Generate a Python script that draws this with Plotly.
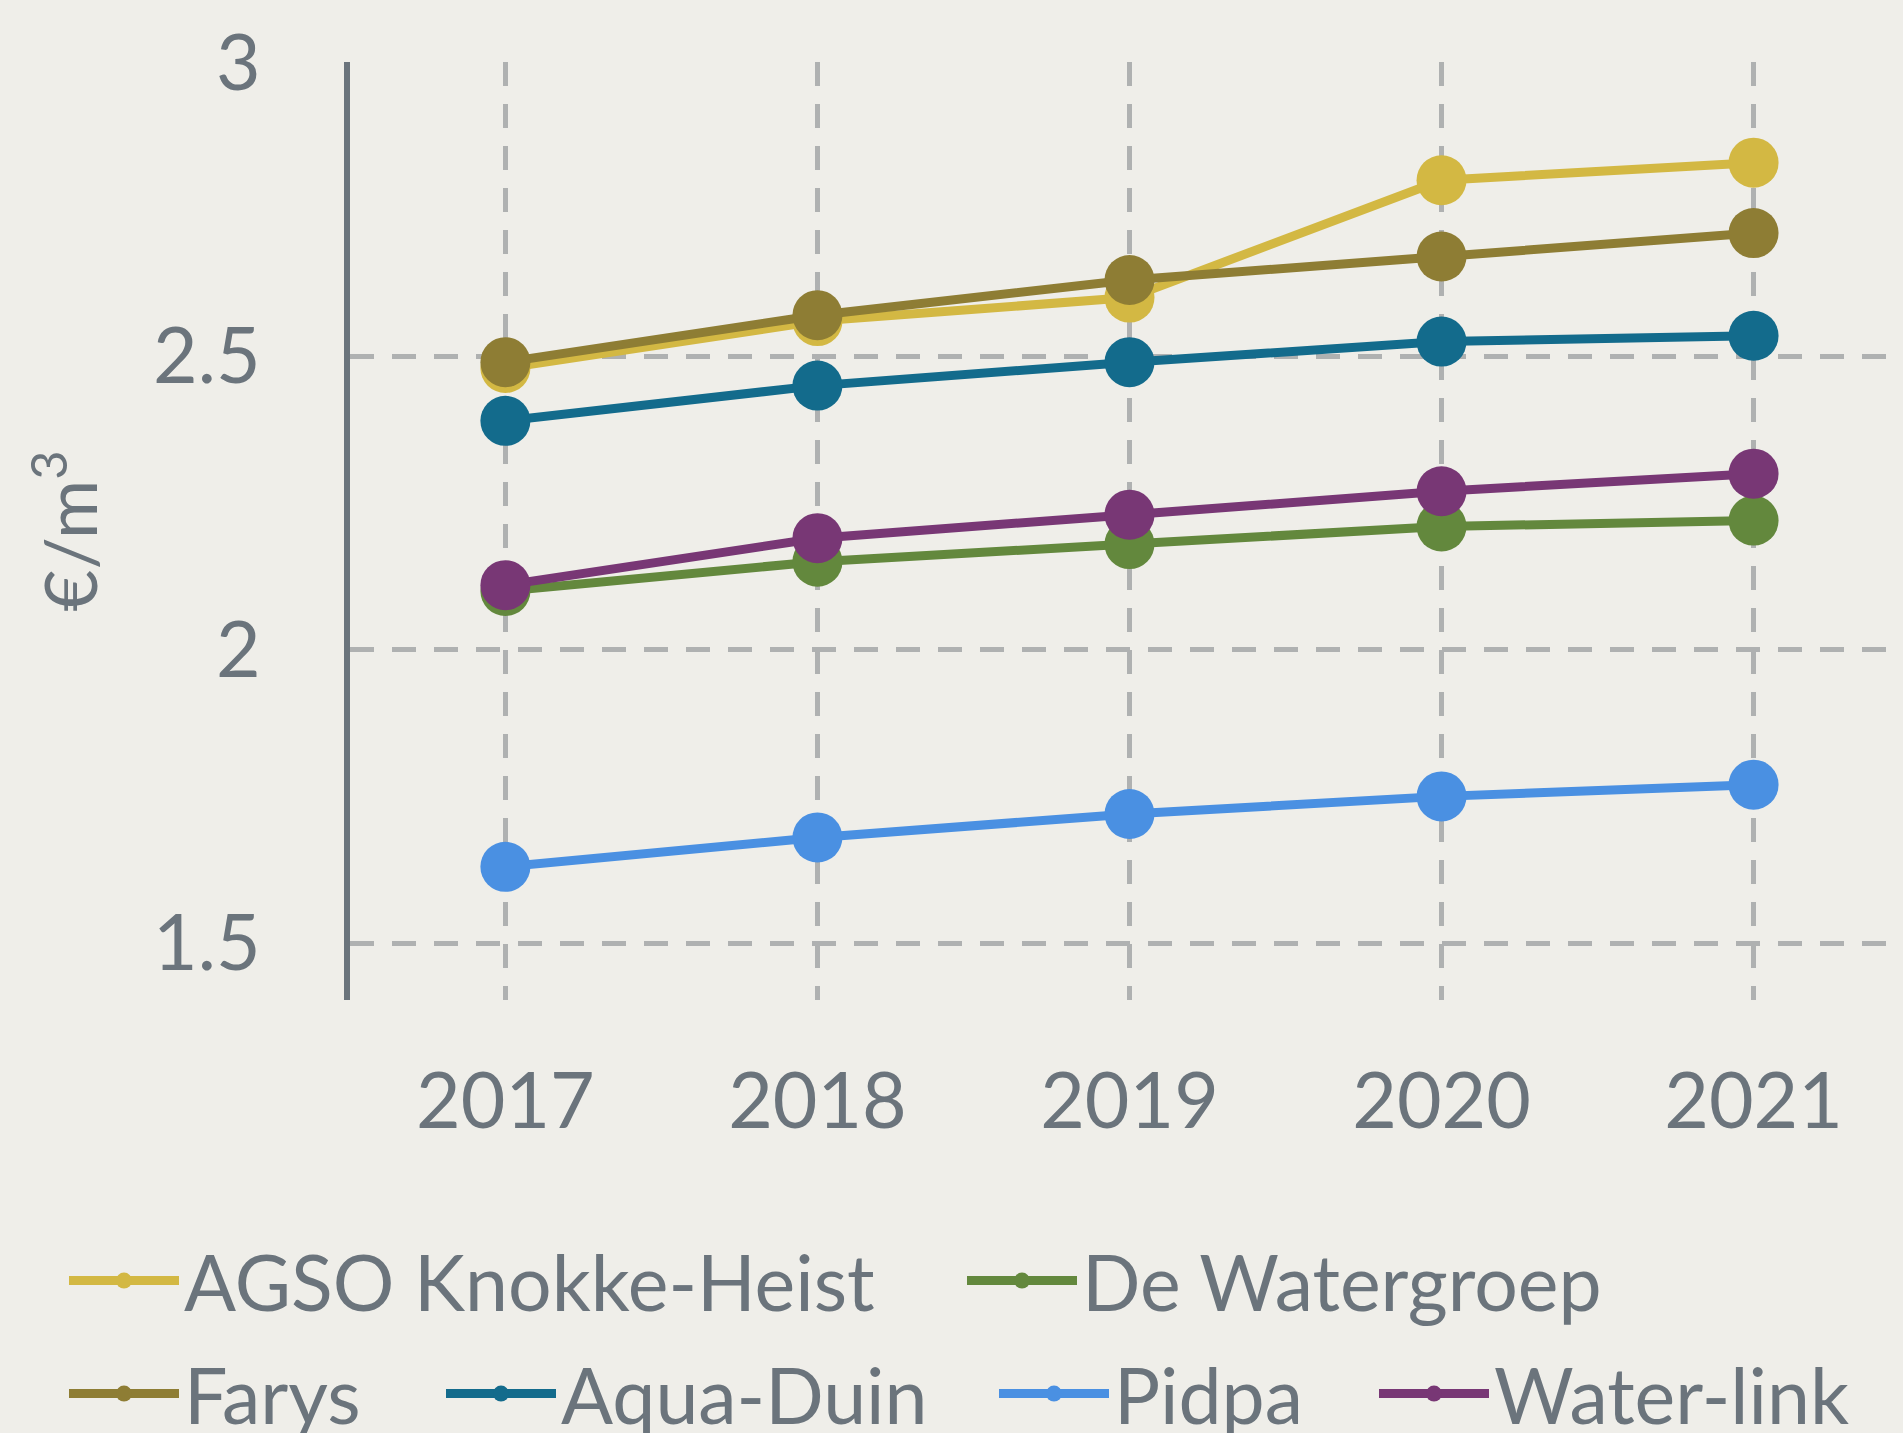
import plotly.graph_objects as go

years = [2017, 2018, 2019, 2020, 2021]
series_names = ["AGSO Knokke-Heist", "De Watergroep", "Farys", "Aqua-Duin", "Pidpa", "Water-link"]
agso = [2.48, 2.56, 2.60, 2.80, 2.83]
de_watergroep = [2.10, 2.15, 2.18, 2.21, 2.22]
farys = [2.49, 2.57, 2.63, 2.67, 2.71]
aqua_duin = [2.39, 2.45, 2.49, 2.525, 2.535]
pidpa = [1.63, 1.68, 1.72, 1.75, 1.77]
water_link = [2.11, 2.19, 2.23, 2.27, 2.30]
y_ticks = [1.5, 2, 2.5, 3]
y_tick_labels = ["1.5", "2", "2.5", "3"]

values = [agso, de_watergroep, farys, aqua_duin, pidpa, water_link]
colors = ["#d3b843", "#63883d", "#8e7d34", "#136b8c", "#4a90e2", "#783775"]

FONT = "Lato"
TXT = "#6b747c"
BG = "#efeee9"
GRID = "#afb1b1"

W, H = 1903, 1433
L, R, T, B = 350, 1889, 61.6, 1000
pw, ph = R - L, B - T

# legend entry placement (pixels in the page): symbol-left x, row top y
legend_pos = [(70, 1224), (968, 1224), (70, 1337), (447, 1337), (1000, 1337), (1380, 1337)]

fig = go.Figure()
legend_layouts = {}
for i, (name, vals, col) in enumerate(zip(series_names, values, colors)):
    key = "legend" if i == 0 else f"legend{i + 1}"
    fig.add_trace(go.Scatter(
        x=years, y=vals, name=name, mode="lines+markers",
        line=dict(color=col, width=9),
        marker=dict(color=col, size=50),
        legend=key,
    ))
    lx, ly = legend_pos[i]
    legend_layouts[key] = dict(
        orientation="h", xref="container", yref="container",
        x=(lx - 6) / W, y=1 - ly / H, xanchor="left", yanchor="top",
        font=dict(size=77, color=TXT, family=FONT),
        itemwidth=110, bgcolor="rgba(0,0,0,0)",
    )

fig.update_layout(
    width=W, height=H,
    paper_bgcolor=BG, plot_bgcolor=BG,
    margin=dict(l=L, r=W - R, t=T, b=H - B, autoexpand=False),
    font=dict(family=FONT, color=TXT, size=77),
    showlegend=True,
    xaxis=dict(
        range=[2016.502, 2021.434], tickmode="array", tickvals=years,
        ticktext=[str(y) for y in years],
        showgrid=True, gridcolor=GRID, gridwidth=5, griddash="24px,18px",
        zeroline=False, showline=False, ticks="",
        ticklabelstandoff=50, automargin=False,
        tickfont=dict(size=77, family=FONT, color=TXT),
    ),
    yaxis=dict(
        range=[1.403, 3.0015], tickmode="array", tickvals=y_ticks, ticktext=y_tick_labels,
        showgrid=True, gridcolor=GRID, gridwidth=5, griddash="24px,18px",
        zeroline=False, showline=True, linecolor=TXT, linewidth=6,
        ticks="", ticklabelstandoff=68, automargin=False,
        tickfont=dict(size=77, family=FONT, color=TXT),
        title=dict(text="€/m<sup>3</sup>", font=dict(size=72, family=FONT, color=TXT), standoff=34),
    ),
    **legend_layouts,
)

fig.write_html("out.html")
